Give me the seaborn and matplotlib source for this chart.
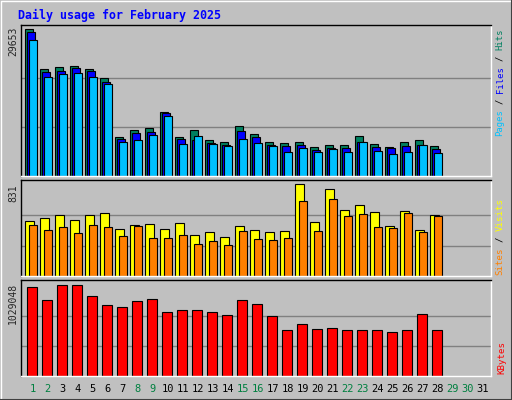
import numpy as np
import pandas as pd
import seaborn as sns
import matplotlib
matplotlib.use("Agg")
import matplotlib.pyplot as plt

days = list(range(1, 29))
hits = [29653,21565,21970,22172,21565,19746,7818,9233,9637,12872,7818,9233,7211,6807,
        10041,8424,6807,6604,6807,5796,6200,6200,8020,6402,5796,6807,7211,5998]
files = [29046,20959,21161,21768,21161,18937,7413,8626,8828,12670,7413,7278,6604,6200,
         9030,7818,6200,5998,6200,5189,5594,5594,6807,5796,5594,5998,6200,5391]
pages = [27428,19948,20554,20757,19948,18533,6807,7211,8222,12063,6402,8020,6402,5998,
         7413,6604,5998,4785,5594,4785,5391,4785,6807,4987,4380,4785,6200,4583]
visits = [497,524,551,506,551,569,425,461,470,425,479,370,397,352,452,416,397,406,
          831,488,786,596,641,578,452,587,416,551]
sites = [461,416,443,388,461,443,361,452,343,343,370,289,316,280,406,334,325,343,
         677,406,696,542,560,443,434,569,397,542]
kbytes = [1006323,859332,1029048,1029048,904560,802797,780183,848025,870639,723648,
          746262,746262,723648,689727,859332,814104,678420,520122,587964,531429,
          542736,520122,520122,520122,497508,520122,701034,520122]
day_labels = [str(d) for d in range(1, 32)]
weekend = {1,2,8,9,15,16,22,23,29,30}
title = "Daily usage for February 2025"

BG = "#C0C0C0"
W, H = 512, 400
fig = plt.figure(figsize=(W/100, H/100), dpi=100, facecolor=BG)
sns.set_style("white")
plt.rcParams['font.family'] = ['DejaVu Sans Mono']

def ax_px(top, bottom, left=20.7, right=490.7):
    return fig.add_axes([left/W, (H-bottom)/H, (right-left)/W, (bottom-top)/H])

XL = (0.313, 31.647)
df = pd.DataFrame({"day": days, "hits": hits, "files": files, "pages": pages,
                   "visits": visits, "sites": sites, "kbytes": kbytes})

def style(ax, ymax, vmax):
    ax.set_facecolor(BG)
    ax.set_xlim(*XL)
    ax.set_ylim(0, ymax)
    ax.set_xticks([]); ax.set_yticks([])
    for v in (vmax/3, 2*vmax/3):
        ax.axhline(v, color="#808080", lw=1, zorder=0)
    for s in ("left", "top"):
        ax.spines[s].set_color("black")
    for s in ("right", "bottom"):
        ax.spines[s].set_color("white")
    for s in ax.spines.values():
        s.set_linewidth(1)
    ax.set_xlabel(""); ax.set_ylabel("")
    legend = ax.get_legend()
    if legend: legend.remove()

def bars(ax, col, off, width, color):
    sns.barplot(x=df["day"] + off, y=df[col], native_scale=True, width=width,
                color=color, edgecolor="black", linewidth=0.8, saturation=1, ax=ax, zorder=2)

a1 = ax_px(24.7, 176)
bars(a1, "hits", -0.133, 0.49, "#008060")
bars(a1, "files", 0.0, 0.49, "#0000FF")
bars(a1, "pages", 0.133, 0.49, "#00C0FF")
style(a1, 29653*151.3/146.7, 29653)

a2 = ax_px(180.3, 276.3)
bars(a2, "visits", -0.1, 0.56, "#FFFF00")
bars(a2, "sites", 0.133, 0.49, "#FF8000")
style(a2, 831*96/92, 831)

a3 = ax_px(280.3, 376.3)
bars(a3, "kbytes", 0.047, 0.67, "#FF0000")
style(a3, 1029048*96/91, 1029048)

def ftext(x, y, s, **kw):
    fig.text(x/W, (H-y)/H, s, **kw)

ftext(18, 15, title, color="#0000FF", fontsize=8.4, fontweight="bold", va="center")
ftext(13, 27, "29653", rotation=90, fontsize=7, va="top", ha="center")
ftext(13, 184, "831", rotation=90, fontsize=7, va="top", ha="center")
ftext(13, 283, "1029048", rotation=90, fontsize=7, va="top", ha="center")

def stacked(x, top, pieces, fs):
    cw = 0.602 * fs * 100 / 72
    y = top
    for s, c in pieces:
        st = s.strip()
        lead = len(s) - len(s.lstrip())
        ftext(x, y + lead * cw, st, rotation=90, color=c, fontsize=fs, va="top", ha="center")
        y += cw * len(s)

stacked(500, 29, [("Hits", "#008060"), (" / ", "black"), ("Files", "#0000FF"),
                  (" / ", "black"), ("Pages", "#00C0FF")], 6.4)
stacked(500, 198, [("Visits", "#FFFF00"), (" / ", "black"), ("Sites", "#FF8000")], 6.6)
stacked(502, 341, [("KBytes", "#FF0000")], 6.6)

for i, lab in enumerate(day_labels):
    d = i + 1
    x = 20.7 + (d - XL[0]) * 15 + 1.5
    ftext(x, 389, lab, ha="center", va="center", fontsize=7.5,
          color="#008040" if d in weekend else "black")

fig.add_artist(plt.Line2D([0.5/W, 0.5/W, 1], [0, 1 - 0.5/H, 1 - 0.5/H], transform=fig.transFigure, color="white", lw=1))
fig.add_artist(plt.Line2D([0, 1 - 0.5/W, 1 - 0.5/W], [0.5/H, 0.5/H, 1], transform=fig.transFigure, color="#404040", lw=1.5))

fig.savefig("out.png", dpi=100, facecolor=BG)
